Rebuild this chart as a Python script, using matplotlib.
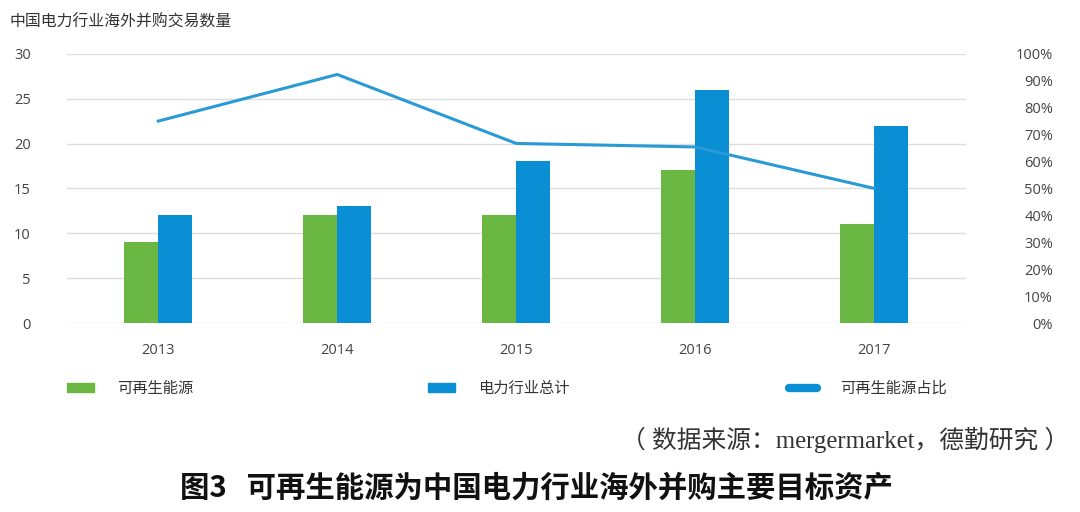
import matplotlib
matplotlib.use('Agg')
from matplotlib import pyplot as plt
from matplotlib.patches import Patch
from matplotlib.lines import Line2D

plt.rcParams['font.family'] = ['Open Sans', 'Noto Sans CJK SC', 'DejaVu Sans']

years = ['2013', '2014', '2015', '2016', '2017']
renewable = [9, 12, 12, 17, 11]
power_total = [12, 13, 18, 26, 22]
renewable_share = [0.75, 0.923, 0.667, 0.654, 0.50]
left_ticks = [0, 5, 10, 15, 20, 25, 30]
right_ticks = [0, 0.1, 0.2, 0.3, 0.4, 0.5, 0.6, 0.7, 0.8, 0.9, 1.0]

green = '#6ab843'
blue = '#0a8fd4'
line_blue = '#2a9ad6'
cjk = ['Noto Sans CJK SC', 'DejaVu Sans']

fig = plt.figure(figsize=(10.8, 5.12), dpi=100)
ax = fig.add_axes([0.062, 0.369, 0.832, 0.526])
ax2 = ax.twinx()

x = list(range(len(years)))
w = 0.19
ax.bar([i - w / 2 for i in x], renewable, width=w, color=green, zorder=3)
ax.bar([i + w / 2 for i in x], power_total, width=w, color=blue, zorder=3)
ax2.plot(x, renewable_share, color=line_blue, lw=2.2, zorder=4)

ax.set_xlim(-0.51, len(years) - 0.49)
ax.set_ylim(0, 30)
ax.set_yticks(left_ticks)
ax.set_xticks(x)
ax.set_xticklabels(years)
ax.grid(axis='y', color='#dddddd', lw=1, zorder=0)
ax.tick_params(axis='y', length=0, pad=26, labelsize=10.5, labelcolor='#444444')
ax.tick_params(axis='x', length=0, pad=14, labelsize=10.5, labelcolor='#444444')

ax2.set_ylim(0, 1.0)
ax2.set_yticks(right_ticks)
ax2.set_yticklabels(['%d%%' % round(t * 100) for t in right_ticks])
ax2.tick_params(axis='y', length=0, pad=63, labelsize=10.5, labelcolor='#444444')
for lab in ax2.get_yticklabels():
    lab.set_horizontalalignment('right')

for a in (ax, ax2):
    for s in a.spines.values():
        s.set_visible(False)

fig.text(0.009, 0.957, '中国电力行业海外并购交易数量', fontsize=11.4, color='#333333',
         family=cjk, va='center')

# legend: three separate entries spread across the width
handles = [Patch(color=green), Patch(color=blue),
           Line2D([0], [0], color=blue, lw=6, solid_capstyle='round')]
labels = ['可再生能源', '电力行业总计', '可再生能源占比']
starts = [0.062, 0.396, 0.731]
for h, lab, x0 in zip(handles, labels, starts):
    leg = fig.legend([h], [lab], loc='center left', bbox_to_anchor=(x0, 0.242),
                     frameon=False, handlelength=1.8, handleheight=0.5, handletextpad=1.5,
                     borderpad=0, borderaxespad=0, prop={'family': cjk, 'size': 11})
    for t in leg.get_texts():
        t.set_color('#333333')

fig.text(0.99, 0.14, '（ 数据来源：mergermarket，德勤研究 ）', fontsize=17.8, color='#333333',
         family=['Liberation Serif', 'Noto Sans CJK SC'], ha='right', va='center')
fig.text(0.497, 0.047, '图3   可再生能源为中国电力行业海外并购主要目标资产', fontsize=21.2,
         fontweight='bold', color='#111111', family=cjk,
         ha='center', va='center')

fig.savefig('out.png', dpi=100, facecolor='white')
